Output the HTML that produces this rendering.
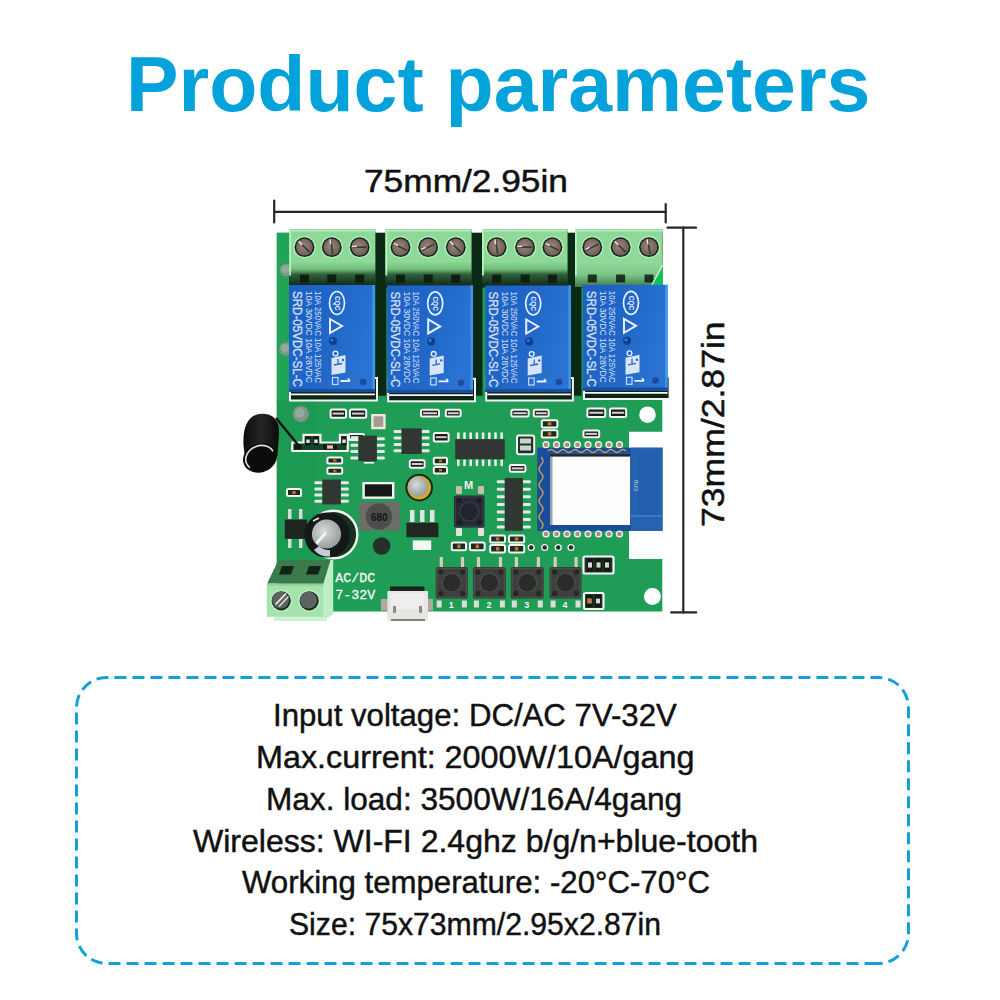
<!DOCTYPE html>
<html><head><meta charset="utf-8"><style>
html,body{margin:0;padding:0;background:#fff;}
body{width:1000px;height:1000px;position:relative;overflow:hidden;font-family:"Liberation Sans",sans-serif;}
.t{position:absolute;white-space:nowrap;line-height:1;transform-origin:0 0;}
#title{left:125.6px;top:46px;font-size:77px;font-weight:bold;color:#04a2db;}
.spec{font-size:31px;color:#111;-webkit-text-stroke:0.45px #111;}
svg{position:absolute;left:0;top:0;}
</style></head><body>
<div class="t" id="title" style="transform:scaleX(1.0233)">Product parameters</div>
<div class="t" style="left:364px;top:166px;font-size:31.5px;color:#111;-webkit-text-stroke:0.5px #111;transform:scaleX(1.12)">75mm/2.95in</div>
<div class="t" style="left:698px;top:527px;font-size:31.5px;color:#111;-webkit-text-stroke:0.5px #111;transform:rotate(-90deg) scaleX(1.129)">73mm/2.87in</div>
<svg width="1000" height="1000" viewBox="0 0 1000 1000"><defs><linearGradient id="gRelay" x1="0" y1="0" x2="1" y2="0.3"><stop offset="0" stop-color="#1c5fc4"/><stop offset="0.6" stop-color="#2168c9"/><stop offset="1" stop-color="#2a73d2"/></linearGradient><linearGradient id="gTbFront" x1="0" y1="0" x2="0" y2="1"><stop offset="0" stop-color="#88d492"/><stop offset="0.28" stop-color="#74c07f"/><stop offset="0.5" stop-color="#2f5f3a"/><stop offset="1" stop-color="#0f2416"/></linearGradient><radialGradient id="gScrew" cx="0.45" cy="0.45" r="0.6"><stop offset="0" stop-color="#a08680"/><stop offset="1" stop-color="#6c5852"/></radialGradient><linearGradient id="gTbFront4" x1="0" y1="0" x2="0" y2="1"><stop offset="0" stop-color="#92da9c"/><stop offset="0.5" stop-color="#7cc687"/><stop offset="1" stop-color="#3f7a4c"/></linearGradient><linearGradient id="gCoil" x1="0" y1="0" x2="1" y2="0"><stop offset="0" stop-color="#0c0c0c"/><stop offset="0.5" stop-color="#262626"/><stop offset="1" stop-color="#0a0a0a"/></linearGradient><radialGradient id="gCap" cx="0.4" cy="0.4" r="0.7"><stop offset="0" stop-color="#d6dad9"/><stop offset="1" stop-color="#8f9594"/></radialGradient></defs>
<g stroke="#262626" stroke-width="2.2" stroke-linecap="round">
<line x1="274.2" y1="211.8" x2="665.7" y2="211.8"/>
<line x1="274.2" y1="200.5" x2="274.2" y2="222.4"/>
<line x1="665.7" y1="204" x2="665.7" y2="222.4"/>
<line x1="683.3" y1="227.7" x2="683.3" y2="612.4"/>
<line x1="667.5" y1="227.7" x2="696" y2="227.7"/>
<line x1="671.2" y1="612.4" x2="696.2" y2="612.4"/>
</g>
<polygon points="276.8,232.8 662.3,232.8 662.3,431.7 629,431.7 629,559 662.3,559 662.3,611.5 276.8,611.5" fill="#1f9c55"/>
<rect x="276.8" y="232.8" width="12.5" height="170" fill="#21a358"/>
<rect x="276.8" y="400" width="40" height="211" fill="#1d9a52"/>
<rect x="375.3" y="232.8" width="11" height="163" fill="#0b2a16"/>
<rect x="471.5" y="232.8" width="11" height="163" fill="#0b2a16"/>
<rect x="567.5" y="232.8" width="14" height="163" fill="#0b2a16"/>
<circle cx="286.3" cy="270" r="6.5" fill="#7f978a"/>
<circle cx="285.3" cy="269" r="3.9" fill="#93aa9d"/>
<circle cx="286" cy="349" r="6.8" fill="#7f978a"/>
<circle cx="285" cy="348" r="4.08" fill="#93aa9d"/>
<circle cx="300.8" cy="414" r="8" fill="#7f978a"/>
<circle cx="299.8" cy="413" r="4.8" fill="#93aa9d"/>
<rect x="289.2" y="229.5" width="86.10000000000002" height="58" fill="#0f2416"/>
<rect x="289.2" y="262" width="86.10000000000002" height="25" fill="url(#gTbFront)"/>
<rect x="289.2" y="229.5" width="86.10000000000002" height="33" fill="#8ed998"/>
<rect x="289.2" y="229.5" width="86.10000000000002" height="2" fill="#b2eeb9"/>
<rect x="289.2" y="229.5" width="1.8" height="46" fill="#b8f2be"/>
<circle cx="304.5" cy="247.2" r="11.2" fill="#b4ecb9"/>
<circle cx="304.5" cy="247.2" r="9.9" fill="#10281a"/>
<circle cx="304.5" cy="247.2" r="8.4" fill="url(#gScrew)"/>
<line x1="299.5" y1="242.2" x2="309.5" y2="252.2" stroke="#34403a" stroke-width="1.8"/>
<line x1="298.7" y1="241.39999999999998" x2="302.2" y2="244.89999999999998" stroke="#e6e6e6" stroke-width="1.5"/>
<rect x="300.0" y="274.5" width="9" height="8" fill="#081409" opacity="0.8"/>
<circle cx="331.8" cy="247.2" r="11.2" fill="#b4ecb9"/>
<circle cx="331.8" cy="247.2" r="9.9" fill="#10281a"/>
<circle cx="331.8" cy="247.2" r="8.4" fill="url(#gScrew)"/>
<line x1="330.8" y1="240.2" x2="332.8" y2="254.2" stroke="#34403a" stroke-width="1.8"/>
<line x1="330.0" y1="239.39999999999998" x2="330.7" y2="244.29999999999998" stroke="#e6e6e6" stroke-width="1.5"/>
<rect x="327.3" y="274.5" width="9" height="8" fill="#081409" opacity="0.8"/>
<circle cx="359.7" cy="247.2" r="11.2" fill="#b4ecb9"/>
<circle cx="359.7" cy="247.2" r="9.9" fill="#10281a"/>
<circle cx="359.7" cy="247.2" r="8.4" fill="url(#gScrew)"/>
<line x1="352.7" y1="247.2" x2="366.7" y2="247.2" stroke="#34403a" stroke-width="1.8"/>
<line x1="351.9" y1="246.39999999999998" x2="356.79999999999995" y2="246.39999999999998" stroke="#e6e6e6" stroke-width="1.5"/>
<rect x="355.2" y="274.5" width="9" height="8" fill="#081409" opacity="0.8"/>
<rect x="385.4" y="229.5" width="86.10000000000002" height="58" fill="#0f2416"/>
<rect x="385.4" y="262" width="86.10000000000002" height="25" fill="url(#gTbFront)"/>
<rect x="385.4" y="229.5" width="86.10000000000002" height="33" fill="#8ed998"/>
<rect x="385.4" y="229.5" width="86.10000000000002" height="2" fill="#b2eeb9"/>
<rect x="385.4" y="229.5" width="1.8" height="46" fill="#b8f2be"/>
<circle cx="400.5" cy="247.2" r="11.2" fill="#b4ecb9"/>
<circle cx="400.5" cy="247.2" r="9.9" fill="#10281a"/>
<circle cx="400.5" cy="247.2" r="8.4" fill="url(#gScrew)"/>
<line x1="394.5" y1="244.2" x2="406.5" y2="250.2" stroke="#34403a" stroke-width="1.8"/>
<line x1="393.7" y1="243.39999999999998" x2="397.9" y2="245.49999999999997" stroke="#e6e6e6" stroke-width="1.5"/>
<rect x="396.0" y="274.5" width="9" height="8" fill="#081409" opacity="0.8"/>
<circle cx="428.2" cy="247.2" r="11.2" fill="#b4ecb9"/>
<circle cx="428.2" cy="247.2" r="9.9" fill="#10281a"/>
<circle cx="428.2" cy="247.2" r="8.4" fill="url(#gScrew)"/>
<line x1="422.2" y1="250.2" x2="434.2" y2="244.2" stroke="#34403a" stroke-width="1.8"/>
<line x1="421.4" y1="249.39999999999998" x2="425.59999999999997" y2="247.29999999999998" stroke="#e6e6e6" stroke-width="1.5"/>
<rect x="423.7" y="274.5" width="9" height="8" fill="#081409" opacity="0.8"/>
<circle cx="455.8" cy="247.2" r="11.2" fill="#b4ecb9"/>
<circle cx="455.8" cy="247.2" r="9.9" fill="#10281a"/>
<circle cx="455.8" cy="247.2" r="8.4" fill="url(#gScrew)"/>
<line x1="450.8" y1="242.2" x2="460.8" y2="252.2" stroke="#34403a" stroke-width="1.8"/>
<line x1="450.0" y1="241.39999999999998" x2="453.5" y2="244.89999999999998" stroke="#e6e6e6" stroke-width="1.5"/>
<rect x="451.3" y="274.5" width="9" height="8" fill="#081409" opacity="0.8"/>
<rect x="482" y="229.5" width="85.5" height="58" fill="#0f2416"/>
<rect x="482" y="262" width="85.5" height="25" fill="url(#gTbFront)"/>
<rect x="482" y="229.5" width="85.5" height="33" fill="#8ed998"/>
<rect x="482" y="229.5" width="85.5" height="2" fill="#b2eeb9"/>
<rect x="482" y="229.5" width="1.8" height="46" fill="#b8f2be"/>
<circle cx="496.7" cy="247.2" r="11.2" fill="#b4ecb9"/>
<circle cx="496.7" cy="247.2" r="9.9" fill="#10281a"/>
<circle cx="496.7" cy="247.2" r="8.4" fill="url(#gScrew)"/>
<line x1="495.7" y1="240.2" x2="497.7" y2="254.2" stroke="#34403a" stroke-width="1.8"/>
<line x1="494.9" y1="239.39999999999998" x2="495.59999999999997" y2="244.29999999999998" stroke="#e6e6e6" stroke-width="1.5"/>
<rect x="492.2" y="274.5" width="9" height="8" fill="#081409" opacity="0.8"/>
<circle cx="525.1" cy="247.2" r="11.2" fill="#b4ecb9"/>
<circle cx="525.1" cy="247.2" r="9.9" fill="#10281a"/>
<circle cx="525.1" cy="247.2" r="8.4" fill="url(#gScrew)"/>
<line x1="518.1" y1="247.2" x2="532.1" y2="247.2" stroke="#34403a" stroke-width="1.8"/>
<line x1="517.3000000000001" y1="246.39999999999998" x2="522.2" y2="246.39999999999998" stroke="#e6e6e6" stroke-width="1.5"/>
<rect x="520.6" y="274.5" width="9" height="8" fill="#081409" opacity="0.8"/>
<circle cx="552.4" cy="247.2" r="11.2" fill="#b4ecb9"/>
<circle cx="552.4" cy="247.2" r="9.9" fill="#10281a"/>
<circle cx="552.4" cy="247.2" r="8.4" fill="url(#gScrew)"/>
<line x1="546.4" y1="244.2" x2="558.4" y2="250.2" stroke="#34403a" stroke-width="1.8"/>
<line x1="545.6" y1="243.39999999999998" x2="549.8000000000001" y2="245.49999999999997" stroke="#e6e6e6" stroke-width="1.5"/>
<rect x="547.9" y="274.5" width="9" height="8" fill="#081409" opacity="0.8"/>
<rect x="575" y="229.5" width="87.60000000000002" height="58" fill="#0f2416"/>
<rect x="575" y="262" width="87.60000000000002" height="25" fill="url(#gTbFront4)"/>
<rect x="575" y="229.5" width="87.60000000000002" height="33" fill="#8ed998"/>
<rect x="575" y="229.5" width="87.60000000000002" height="2" fill="#b2eeb9"/>
<rect x="575" y="229.5" width="1.8" height="46" fill="#b8f2be"/>
<circle cx="592.3" cy="247.2" r="11.2" fill="#b4ecb9"/>
<circle cx="592.3" cy="247.2" r="9.9" fill="#10281a"/>
<circle cx="592.3" cy="247.2" r="8.4" fill="url(#gScrew)"/>
<line x1="586.3" y1="250.2" x2="598.3" y2="244.2" stroke="#34403a" stroke-width="1.8"/>
<line x1="585.5" y1="249.39999999999998" x2="589.7" y2="247.29999999999998" stroke="#e6e6e6" stroke-width="1.5"/>
<rect x="587.8" y="274.5" width="9" height="8" fill="#081409" opacity="0.8"/>
<circle cx="620.6" cy="247.2" r="11.2" fill="#b4ecb9"/>
<circle cx="620.6" cy="247.2" r="9.9" fill="#10281a"/>
<circle cx="620.6" cy="247.2" r="8.4" fill="url(#gScrew)"/>
<line x1="615.6" y1="242.2" x2="625.6" y2="252.2" stroke="#34403a" stroke-width="1.8"/>
<line x1="614.8000000000001" y1="241.39999999999998" x2="618.3000000000001" y2="244.89999999999998" stroke="#e6e6e6" stroke-width="1.5"/>
<rect x="616.1" y="274.5" width="9" height="8" fill="#081409" opacity="0.8"/>
<circle cx="649" cy="247.2" r="11.2" fill="#b4ecb9"/>
<circle cx="649" cy="247.2" r="9.9" fill="#10281a"/>
<circle cx="649" cy="247.2" r="8.4" fill="url(#gScrew)"/>
<line x1="648" y1="240.2" x2="650" y2="254.2" stroke="#34403a" stroke-width="1.8"/>
<line x1="647.2" y1="239.39999999999998" x2="647.9000000000001" y2="244.29999999999998" stroke="#e6e6e6" stroke-width="1.5"/>
<rect x="644.5" y="274.5" width="9" height="8" fill="#081409" opacity="0.8"/>
<polygon points="651.5,285.5 662.7,265 662.7,285.5" fill="#14c05c"/>
<line x1="651.5" y1="285.5" x2="662.7" y2="265" stroke="#d8f5dc" stroke-width="1.3"/>
<rect x="290" y="378" width="87" height="22.5" fill="#0d2417" stroke="#f4f6f4" stroke-width="2"/>
<line x1="291" y1="394.3" x2="375" y2="394.3" stroke="#f4f6f4" stroke-width="1.7"/>
<rect x="289" y="285" width="86" height="107" fill="url(#gRelay)"/>
<rect x="372.5" y="285" width="2.5" height="107" fill="#3e98ea"/>
<rect x="289" y="389" width="86" height="3" fill="#174f9e"/>
<text transform="translate(293,291) rotate(90)" font-family="Liberation Sans" font-size="13.5" fill="#e8f0fc" stroke="#e8f0fc" stroke-width="0.3" opacity="0.9" textLength="96" lengthAdjust="spacingAndGlyphs">SRD-05VDC-SL-C</text>
<text transform="translate(306,291) rotate(90)" font-family="Liberation Sans" font-size="8.5" fill="#e8f0fc" opacity="0.9" textLength="92" lengthAdjust="spacingAndGlyphs">10A 30VDC 10A 28VDC</text>
<text transform="translate(315,291) rotate(90)" font-family="Liberation Sans" font-size="8.5" fill="#e8f0fc" opacity="0.9" textLength="92" lengthAdjust="spacingAndGlyphs">10A 250VAC 10A 125VAC</text>
<ellipse cx="337" cy="303" rx="7.5" ry="11.5" fill="none" stroke="#e8f0fc" stroke-width="1.7"/>
<text transform="translate(334.5,296) rotate(90)" font-family="Liberation Sans" font-weight="bold" font-size="6.5" fill="#e8f0fc">CQC</text>
<path d="M330,319 L342,326 L330,333 Z" fill="none" stroke="#e8f0fc" stroke-width="2"/>
<circle cx="333" cy="341" r="4" fill="#0f3f8c"/>
<circle cx="332" cy="340" r="1.6" fill="#2f7ad8"/>
<polygon points="331.5,358 345.5,355 345.5,372.5 331.5,375" fill="#e8f0fc" opacity="0.92"/>
<path d="M334,365 L342,363.5 M338,359 L338,364" stroke="#2a66c4" stroke-width="1.3"/>
<circle cx="343" cy="360" r="1.2" fill="#2a66c4"/>
<circle cx="335.5" cy="353.5" r="2.4" fill="none" stroke="#e8f0fc" stroke-width="1.3"/>
<rect x="332.5" y="377.5" width="5.5" height="7" fill="none" stroke="#e8f0fc" stroke-width="1.2" opacity="0.85"/>
<path d="M340.5,381 H350 M348,378.5 L350,381" stroke="#e8f0fc" stroke-width="1.8"/>
<circle cx="363" cy="382" r="3.3" fill="#1a4d9a"/>
<rect x="388.2" y="378.8" width="86.80000000000001" height="22.5" fill="#0d2417" stroke="#f4f6f4" stroke-width="2"/>
<line x1="389.2" y1="395.1" x2="473" y2="395.1" stroke="#f4f6f4" stroke-width="1.7"/>
<rect x="387.2" y="285.4" width="85.80000000000001" height="107.40000000000003" fill="url(#gRelay)"/>
<rect x="470.5" y="285.4" width="2.5" height="107.40000000000003" fill="#3e98ea"/>
<rect x="387.2" y="389.8" width="85.80000000000001" height="3" fill="#174f9e"/>
<text transform="translate(391.2,291.4) rotate(90)" font-family="Liberation Sans" font-size="13.5" fill="#e8f0fc" stroke="#e8f0fc" stroke-width="0.3" opacity="0.9" textLength="96" lengthAdjust="spacingAndGlyphs">SRD-05VDC-SL-C</text>
<text transform="translate(404.2,291.4) rotate(90)" font-family="Liberation Sans" font-size="8.5" fill="#e8f0fc" opacity="0.9" textLength="92" lengthAdjust="spacingAndGlyphs">10A 30VDC 10A 28VDC</text>
<text transform="translate(413.2,291.4) rotate(90)" font-family="Liberation Sans" font-size="8.5" fill="#e8f0fc" opacity="0.9" textLength="92" lengthAdjust="spacingAndGlyphs">10A 250VAC 10A 125VAC</text>
<ellipse cx="435.2" cy="303.4" rx="7.5" ry="11.5" fill="none" stroke="#e8f0fc" stroke-width="1.7"/>
<text transform="translate(432.7,296.4) rotate(90)" font-family="Liberation Sans" font-weight="bold" font-size="6.5" fill="#e8f0fc">CQC</text>
<path d="M428.2,319.4 L440.2,326.4 L428.2,333.4 Z" fill="none" stroke="#e8f0fc" stroke-width="2"/>
<circle cx="431.2" cy="341.4" r="4" fill="#0f3f8c"/>
<circle cx="430.2" cy="340.4" r="1.6" fill="#2f7ad8"/>
<polygon points="429.7,358.4 443.7,355.4 443.7,372.9 429.7,375.4" fill="#e8f0fc" opacity="0.92"/>
<path d="M432.2,365.4 L440.2,363.9 M436.2,359.4 L436.2,364.4" stroke="#2a66c4" stroke-width="1.3"/>
<circle cx="441.2" cy="360.4" r="1.2" fill="#2a66c4"/>
<circle cx="433.7" cy="353.9" r="2.4" fill="none" stroke="#e8f0fc" stroke-width="1.3"/>
<rect x="430.7" y="377.9" width="5.5" height="7" fill="none" stroke="#e8f0fc" stroke-width="1.2" opacity="0.85"/>
<path d="M438.7,381.4 H448.2 M446.2,378.9 L448.2,381.4" stroke="#e8f0fc" stroke-width="1.8"/>
<circle cx="461.0" cy="382.8" r="3.3" fill="#1a4d9a"/>
<rect x="486.2" y="378" width="86.69999999999999" height="22.5" fill="#0d2417" stroke="#f4f6f4" stroke-width="2"/>
<line x1="487.2" y1="394.3" x2="570.9" y2="394.3" stroke="#f4f6f4" stroke-width="1.7"/>
<rect x="485.2" y="285.5" width="85.69999999999999" height="106.5" fill="url(#gRelay)"/>
<rect x="568.4" y="285.5" width="2.5" height="106.5" fill="#3e98ea"/>
<rect x="485.2" y="389" width="85.69999999999999" height="3" fill="#174f9e"/>
<text transform="translate(489.2,291.5) rotate(90)" font-family="Liberation Sans" font-size="13.5" fill="#e8f0fc" stroke="#e8f0fc" stroke-width="0.3" opacity="0.9" textLength="96" lengthAdjust="spacingAndGlyphs">SRD-05VDC-SL-C</text>
<text transform="translate(502.2,291.5) rotate(90)" font-family="Liberation Sans" font-size="8.5" fill="#e8f0fc" opacity="0.9" textLength="92" lengthAdjust="spacingAndGlyphs">10A 30VDC 10A 28VDC</text>
<text transform="translate(511.2,291.5) rotate(90)" font-family="Liberation Sans" font-size="8.5" fill="#e8f0fc" opacity="0.9" textLength="92" lengthAdjust="spacingAndGlyphs">10A 250VAC 10A 125VAC</text>
<ellipse cx="533.2" cy="303.5" rx="7.5" ry="11.5" fill="none" stroke="#e8f0fc" stroke-width="1.7"/>
<text transform="translate(530.7,296.5) rotate(90)" font-family="Liberation Sans" font-weight="bold" font-size="6.5" fill="#e8f0fc">CQC</text>
<path d="M526.2,319.5 L538.2,326.5 L526.2,333.5 Z" fill="none" stroke="#e8f0fc" stroke-width="2"/>
<circle cx="529.2" cy="341.5" r="4" fill="#0f3f8c"/>
<circle cx="528.2" cy="340.5" r="1.6" fill="#2f7ad8"/>
<polygon points="527.7,358.5 541.7,355.5 541.7,373.0 527.7,375.5" fill="#e8f0fc" opacity="0.92"/>
<path d="M530.2,365.5 L538.2,364.0 M534.2,359.5 L534.2,364.5" stroke="#2a66c4" stroke-width="1.3"/>
<circle cx="539.2" cy="360.5" r="1.2" fill="#2a66c4"/>
<circle cx="531.7" cy="354.0" r="2.4" fill="none" stroke="#e8f0fc" stroke-width="1.3"/>
<rect x="528.7" y="378.0" width="5.5" height="7" fill="none" stroke="#e8f0fc" stroke-width="1.2" opacity="0.85"/>
<path d="M536.7,381.5 H546.2 M544.2,379.0 L546.2,381.5" stroke="#e8f0fc" stroke-width="1.8"/>
<circle cx="558.9" cy="382.0" r="3.3" fill="#1a4d9a"/>
<rect x="584" y="376.5" width="85.60000000000002" height="22.5" fill="#0d2417" stroke="#f4f6f4" stroke-width="2"/>
<line x1="585" y1="392.8" x2="667.6" y2="392.8" stroke="#f4f6f4" stroke-width="1.7"/>
<rect x="583" y="284.8" width="84.60000000000002" height="105.69999999999999" fill="url(#gRelay)"/>
<rect x="665.1" y="284.8" width="2.5" height="105.69999999999999" fill="#3e98ea"/>
<rect x="583" y="387.5" width="84.60000000000002" height="3" fill="#174f9e"/>
<text transform="translate(587,290.8) rotate(90)" font-family="Liberation Sans" font-size="13.5" fill="#e8f0fc" stroke="#e8f0fc" stroke-width="0.3" opacity="0.9" textLength="96" lengthAdjust="spacingAndGlyphs">SRD-05VDC-SL-C</text>
<text transform="translate(600,290.8) rotate(90)" font-family="Liberation Sans" font-size="8.5" fill="#e8f0fc" opacity="0.9" textLength="92" lengthAdjust="spacingAndGlyphs">10A 30VDC 10A 28VDC</text>
<text transform="translate(609,290.8) rotate(90)" font-family="Liberation Sans" font-size="8.5" fill="#e8f0fc" opacity="0.9" textLength="92" lengthAdjust="spacingAndGlyphs">10A 250VAC 10A 125VAC</text>
<ellipse cx="631" cy="302.8" rx="7.5" ry="11.5" fill="none" stroke="#e8f0fc" stroke-width="1.7"/>
<text transform="translate(628.5,295.8) rotate(90)" font-family="Liberation Sans" font-weight="bold" font-size="6.5" fill="#e8f0fc">CQC</text>
<path d="M624,318.8 L636,325.8 L624,332.8 Z" fill="none" stroke="#e8f0fc" stroke-width="2"/>
<circle cx="627" cy="340.8" r="4" fill="#0f3f8c"/>
<circle cx="626" cy="339.8" r="1.6" fill="#2f7ad8"/>
<polygon points="625.5,357.8 639.5,354.8 639.5,372.3 625.5,374.8" fill="#e8f0fc" opacity="0.92"/>
<path d="M628,364.8 L636,363.3 M632,358.8 L632,363.8" stroke="#2a66c4" stroke-width="1.3"/>
<circle cx="637" cy="359.8" r="1.2" fill="#2a66c4"/>
<circle cx="629.5" cy="353.3" r="2.4" fill="none" stroke="#e8f0fc" stroke-width="1.3"/>
<rect x="626.5" y="377.3" width="5.5" height="7" fill="none" stroke="#e8f0fc" stroke-width="1.2" opacity="0.85"/>
<path d="M634.5,380.8 H644 M642,378.3 L644,380.8" stroke="#e8f0fc" stroke-width="1.8"/>
<circle cx="655.6" cy="380.5" r="3.3" fill="#1a4d9a"/>
<rect x="330.6" y="409.4" width="15.399999999999977" height="8.400000000000034" rx="1.5" fill="#1a1a1a" stroke="#f4f6f4" stroke-width="2"/><rect x="332.6" y="412.6" width="11.399999999999977" height="2" fill="#cfd3cf"/>
<rect x="350" y="409.4" width="16.19999999999999" height="8.400000000000034" rx="1.5" fill="#1a1a1a" stroke="#f4f6f4" stroke-width="2"/><rect x="352" y="412.6" width="12.199999999999989" height="2" fill="#cfd3cf"/>
<rect x="421" y="409.8" width="18" height="6.800000000000011" rx="1.5" fill="#1a1a1a" stroke="#f4f6f4" stroke-width="2"/><rect x="423" y="412.20000000000005" width="14" height="2" fill="#cfd3cf"/>
<rect x="445.8" y="409.8" width="14.800000000000011" height="6.800000000000011" rx="1.5" fill="#1a1a1a" stroke="#f4f6f4" stroke-width="2"/><rect x="447.8" y="412.20000000000005" width="10.800000000000011" height="2" fill="#cfd3cf"/>
<rect x="511.4" y="409.8" width="17.200000000000045" height="6.800000000000011" rx="1.5" fill="#1a1a1a" stroke="#f4f6f4" stroke-width="2"/><rect x="513.4" y="412.20000000000005" width="13.200000000000045" height="2" fill="#cfd3cf"/>
<rect x="533.8" y="409.8" width="14.800000000000068" height="6.800000000000011" rx="1.5" fill="#1a1a1a" stroke="#f4f6f4" stroke-width="2"/><rect x="535.8" y="412.20000000000005" width="10.800000000000068" height="2" fill="#cfd3cf"/>
<rect x="587.4" y="408.5" width="17.800000000000068" height="8.5" rx="1.5" fill="#1a1a1a" stroke="#f4f6f4" stroke-width="2"/><rect x="589.4" y="411.75" width="13.800000000000068" height="2" fill="#cfd3cf"/>
<rect x="610" y="408.5" width="16.100000000000023" height="8.5" rx="1.5" fill="#1a1a1a" stroke="#f4f6f4" stroke-width="2"/><rect x="612" y="411.75" width="12.100000000000023" height="2" fill="#cfd3cf"/>
<rect x="583.5" y="430.5" width="15.700000000000045" height="6.800000000000011" rx="1.5" fill="#1a1a1a" stroke="#f4f6f4" stroke-width="2"/><rect x="585.5" y="432.9" width="11.700000000000045" height="2" fill="#cfd3cf"/>
<rect x="433.8" y="433" width="14.800000000000011" height="8.399999999999977" rx="1.5" fill="#1a1a1a" stroke="#f4f6f4" stroke-width="2"/><rect x="435.8" y="436.2" width="10.800000000000011" height="2" fill="#cfd3cf"/>
<rect x="509.8" y="465" width="15.599999999999966" height="6.800000000000011" rx="1.5" fill="#1a1a1a" stroke="#f4f6f4" stroke-width="2"/><rect x="511.8" y="467.4" width="11.599999999999966" height="2" fill="#cfd3cf"/>
<rect x="409.8" y="460.2" width="14.800000000000011" height="7.600000000000023" rx="1.5" fill="#1a1a1a" stroke="#f4f6f4" stroke-width="2"/><rect x="411.8" y="463.0" width="10.800000000000011" height="2" fill="#cfd3cf"/>
<rect x="349" y="434" width="15" height="6" rx="1.5" fill="#1a1a1a" stroke="#f4f6f4" stroke-width="2"/><rect x="351" y="436.0" width="11" height="2" fill="#cfd3cf"/>
<rect x="327.4" y="457.4" width="14.800000000000011" height="6.0" rx="1.5" fill="#1c2a20" stroke="#f4f6f4" stroke-width="2"/><rect x="333.12" y="459.4" width="3.3600000000000025" height="2.0" fill="#c8742c"/>
<rect x="327.4" y="467.8" width="14.800000000000011" height="6.0" rx="1.5" fill="#1c2a20" stroke="#f4f6f4" stroke-width="2"/><rect x="333.12" y="469.8" width="3.3600000000000025" height="2.0" fill="#c8742c"/>
<rect x="433.8" y="457.8" width="13.199999999999989" height="6.399999999999977" rx="1.5" fill="#1c2a20" stroke="#f4f6f4" stroke-width="2"/><rect x="438.88" y="459.8" width="3.039999999999998" height="2.3999999999999773" fill="#c8742c"/>
<rect x="433.8" y="467" width="13.199999999999989" height="6.399999999999977" rx="1.5" fill="#1c2a20" stroke="#f4f6f4" stroke-width="2"/><rect x="438.88" y="469" width="3.039999999999998" height="2.3999999999999773" fill="#c8742c"/>
<rect x="541.8" y="420.2" width="15.600000000000023" height="7.199999999999989" rx="1.5" fill="#1c2a20" stroke="#f4f6f4" stroke-width="2"/><rect x="547.8399999999999" y="422.2" width="3.520000000000005" height="3.1999999999999886" fill="#c8742c"/>
<rect x="541.8" y="430.2" width="15.600000000000023" height="7.199999999999989" rx="1.5" fill="#1c2a20" stroke="#f4f6f4" stroke-width="2"/><rect x="547.8399999999999" y="432.2" width="3.520000000000005" height="3.1999999999999886" fill="#c8742c"/>
<rect x="287" y="489" width="14" height="7" rx="1.5" fill="#1c2a20" stroke="#f4f6f4" stroke-width="2"/><rect x="292.4" y="491" width="3.2" height="3" fill="#c8742c"/>
<rect x="451.8" y="542.6" width="14.199999999999989" height="7.600000000000023" rx="1.5" fill="#1c2a20" stroke="#f4f6f4" stroke-width="2"/><rect x="457.28000000000003" y="544.6" width="3.239999999999998" height="3.6000000000000227" fill="#c8742c"/>
<rect x="470" y="542.6" width="14.600000000000023" height="7.600000000000023" rx="1.5" fill="#1c2a20" stroke="#f4f6f4" stroke-width="2"/><rect x="475.64" y="544.6" width="3.3200000000000047" height="3.6000000000000227" fill="#c8742c"/>
<rect x="583.5" y="556.5" width="30" height="17" rx="1.5" fill="#1b3022" stroke="#f4f6f4" stroke-width="2.2"/>
<rect x="587.0" y="558.5" width="6" height="13.0" fill="#101a12"/>
<rect x="588.0" y="562.4" width="4" height="5.2" fill="#d8d8d0"/>
<rect x="595.5" y="558.5" width="6" height="13.0" fill="#101a12"/>
<rect x="596.5" y="562.4" width="4" height="5.2" fill="#d8d8d0"/>
<rect x="604.0" y="558.5" width="6" height="13.0" fill="#101a12"/>
<rect x="605.0" y="562.4" width="4" height="5.2" fill="#d8d8d0"/>
<rect x="584" y="593" width="19.5" height="16" rx="1.5" fill="#1b3022" stroke="#f4f6f4" stroke-width="2.2"/>
<rect x="586.5" y="595" width="6" height="12" fill="#101a12"/>
<rect x="587.5" y="598.6" width="4" height="4.800000000000001" fill="#d8d8d0"/>
<rect x="595.0" y="595" width="6" height="12" fill="#101a12"/>
<rect x="596.0" y="598.6" width="4" height="4.800000000000001" fill="#d8d8d0"/>
<rect x="587.5" y="599" width="4" height="4" fill="#c8742c"/>
<rect x="517" y="435.4" width="17.2" height="18.8" rx="2" fill="#1e3526" stroke="#f4f6f4" stroke-width="2"/>
<rect x="520" y="438.5" width="11" height="5" fill="#cfd3cf"/><rect x="520" y="445.5" width="11" height="5" fill="#cfd3cf"/>
<path d="M292.3,442.5 H303.5 V434.8 H320.4 V442.5 H339.9 V434.8 H347.7 V451 H292.3 Z" fill="#15452a" stroke="#f4f6f4" stroke-width="2.2"/>
<rect x="305.5" y="436.5" width="5" height="9" fill="#111a14"/><rect x="306.3" y="439.5" width="3.4" height="3.5" fill="#e8e0d8"/>
<rect x="313.5" y="436.5" width="5" height="9" fill="#111a14"/><rect x="314.3" y="439.5" width="3.4" height="3.5" fill="#e8e0d8"/>
<rect x="341.5" y="436.5" width="5" height="9" fill="#111a14"/><rect x="342.3" y="439.5" width="3.4" height="3.5" fill="#e8e0d8"/>
<rect x="294" y="444.5" width="8" height="5" fill="#111a14"/>
<rect x="323" y="444.5" width="14" height="5" fill="#111a14"/><rect x="327" y="445.3" width="6" height="3.4" fill="#e7c9b0"/>
<rect x="490.2" y="535.4" width="14.800000000000011" height="7.100000000000023" rx="1.5" fill="#1c2a20" stroke="#f4f6f4" stroke-width="2"/><rect x="495.92" y="537.4" width="3.3600000000000025" height="3.1000000000000227" fill="#c8742c"/>
<rect x="509" y="535.4" width="15.200000000000045" height="7.100000000000023" rx="1.5" fill="#1c2a20" stroke="#f4f6f4" stroke-width="2"/><rect x="514.88" y="537.4" width="3.4400000000000093" height="3.1000000000000227" fill="#c8742c"/>
<rect x="490.2" y="545" width="14.800000000000011" height="7.600000000000023" rx="1.5" fill="#1c2a20" stroke="#f4f6f4" stroke-width="2"/><rect x="495.92" y="547" width="3.3600000000000025" height="3.6000000000000227" fill="#c8742c"/>
<rect x="509" y="545" width="15.200000000000045" height="7.600000000000023" rx="1.5" fill="#1c2a20" stroke="#f4f6f4" stroke-width="2"/><rect x="514.88" y="547" width="3.4400000000000093" height="3.6000000000000227" fill="#c8742c"/>
<circle cx="647.5" cy="414.7" r="8.3" fill="#ffffff"/>
<circle cx="652.4" cy="596.6" r="8.5" fill="#ffffff"/>
<rect x="537.3" y="447.7" width="125.2" height="83.3" fill="#1a4c9c"/>
<rect x="631" y="447.7" width="31.5" height="83.3" fill="#2562b0"/>
<rect x="638" y="453" width="20" height="62" fill="#215cab" opacity="0.7"/>
<rect x="631" y="515" width="31" height="2" fill="#3a78c4"/>
<text transform="translate(633.5,480) rotate(90)" font-family="Liberation Sans" font-size="6" fill="#c8d6ec">8U3</text>
<rect x="550" y="453.7" width="80.2" height="71.3" fill="#9aa3ad"/>
<rect x="552.5" y="456.5" width="77.5" height="68.5" fill="#fdfdfd"/>
<rect x="550" y="453.7" width="80.2" height="2.8" fill="#202a3a"/>
<circle cx="546.0" cy="444.7" r="3.6" fill="#f2f2f2"/><circle cx="546.0" cy="444.7" r="2.3" fill="#a8907a"/>
<circle cx="546.0" cy="534" r="3.6" fill="#f2f2f2"/><circle cx="546.0" cy="534" r="2.3" fill="#a8907a"/>
<circle cx="556.5" cy="444.7" r="3.6" fill="#f2f2f2"/><circle cx="556.5" cy="444.7" r="2.3" fill="#a8907a"/>
<circle cx="556.5" cy="534" r="3.6" fill="#f2f2f2"/><circle cx="556.5" cy="534" r="2.3" fill="#a8907a"/>
<circle cx="567.0" cy="444.7" r="3.6" fill="#f2f2f2"/><circle cx="567.0" cy="444.7" r="2.3" fill="#a8907a"/>
<circle cx="567.0" cy="534" r="3.6" fill="#f2f2f2"/><circle cx="567.0" cy="534" r="2.3" fill="#a8907a"/>
<circle cx="577.5" cy="444.7" r="3.6" fill="#f2f2f2"/><circle cx="577.5" cy="444.7" r="2.3" fill="#a8907a"/>
<circle cx="577.5" cy="534" r="3.6" fill="#f2f2f2"/><circle cx="577.5" cy="534" r="2.3" fill="#a8907a"/>
<circle cx="588.0" cy="444.7" r="3.6" fill="#f2f2f2"/><circle cx="588.0" cy="444.7" r="2.3" fill="#a8907a"/>
<circle cx="588.0" cy="534" r="3.6" fill="#f2f2f2"/><circle cx="588.0" cy="534" r="2.3" fill="#a8907a"/>
<circle cx="598.5" cy="444.7" r="3.6" fill="#f2f2f2"/><circle cx="598.5" cy="444.7" r="2.3" fill="#a8907a"/>
<circle cx="598.5" cy="534" r="3.6" fill="#f2f2f2"/><circle cx="598.5" cy="534" r="2.3" fill="#a8907a"/>
<circle cx="609.0" cy="444.7" r="3.6" fill="#f2f2f2"/><circle cx="609.0" cy="444.7" r="2.3" fill="#a8907a"/>
<circle cx="609.0" cy="534" r="3.6" fill="#f2f2f2"/><circle cx="609.0" cy="534" r="2.3" fill="#a8907a"/>
<circle cx="619.5" cy="444.7" r="3.6" fill="#f2f2f2"/><circle cx="619.5" cy="444.7" r="2.3" fill="#a8907a"/>
<circle cx="619.5" cy="534" r="3.6" fill="#f2f2f2"/><circle cx="619.5" cy="534" r="2.3" fill="#a8907a"/>
<circle cx="531.2" cy="547.5" r="3.6" fill="#f0f0f0"/><circle cx="531.2" cy="547.5" r="2.2" fill="#1c3324"/>
<circle cx="544.7" cy="547.5" r="3.6" fill="#f0f0f0"/><circle cx="544.7" cy="547.5" r="2.2" fill="#1c3324"/>
<circle cx="558.2" cy="547.5" r="3.6" fill="#f0f0f0"/><circle cx="558.2" cy="547.5" r="2.2" fill="#1c3324"/>
<circle cx="571" cy="547.5" r="3.6" fill="#f0f0f0"/><circle cx="571" cy="547.5" r="2.2" fill="#1c3324"/>
<path d="M541,457 q4,4 0,8 q-4,4 0,8 q4,4 0,8 q-4,4 0,8 q4,4 0,8 q-4,4 0,8 q4,4 0,8 q-4,4 0,8 q4,4 0,8" fill="none" stroke="#caa24e" stroke-width="1.4"/>
<path d="M548,451 q3,-3 6,0 q3,3 6,0 q3,-3 6,0 q3,3 6,0 q3,-3 6,0 q3,3 6,0 q3,-3 6,0 q3,3 6,0 q3,-3 6,0 q3,3 6,0 q3,-3 6,0 q3,3 6,0 q3,-3 6,0" fill="none" stroke="#caa24e" stroke-width="1.2"/>
<rect x="350.4" y="437.3" width="8" height="3" rx="1" fill="#e6e9e6"/><rect x="376.8" y="437.3" width="8" height="3" rx="1" fill="#e6e9e6"/><rect x="350.4" y="443.7" width="8" height="3" rx="1" fill="#e6e9e6"/><rect x="376.8" y="443.7" width="8" height="3" rx="1" fill="#e6e9e6"/><rect x="350.4" y="450.1" width="8" height="3" rx="1" fill="#e6e9e6"/><rect x="376.8" y="450.1" width="8" height="3" rx="1" fill="#e6e9e6"/><rect x="350.4" y="456.5" width="8" height="3" rx="1" fill="#e6e9e6"/><rect x="376.8" y="456.5" width="8" height="3" rx="1" fill="#e6e9e6"/><rect x="358.4" y="435.6" width="18.400000000000034" height="25.599999999999966" fill="#323633"/>
<rect x="393.6" y="430.09999999999997" width="8" height="3" rx="1" fill="#e6e9e6"/><rect x="421.6" y="430.09999999999997" width="8" height="3" rx="1" fill="#e6e9e6"/><rect x="393.6" y="436.5" width="8" height="3" rx="1" fill="#e6e9e6"/><rect x="421.6" y="436.5" width="8" height="3" rx="1" fill="#e6e9e6"/><rect x="393.6" y="442.9" width="8" height="3" rx="1" fill="#e6e9e6"/><rect x="421.6" y="442.9" width="8" height="3" rx="1" fill="#e6e9e6"/><rect x="393.6" y="449.3" width="8" height="3" rx="1" fill="#e6e9e6"/><rect x="421.6" y="449.3" width="8" height="3" rx="1" fill="#e6e9e6"/><rect x="401.6" y="428.4" width="20.0" height="25.600000000000023" fill="#323633"/>
<rect x="314.4" y="481.20000000000005" width="8" height="3" rx="1" fill="#e6e9e6"/><rect x="340.8" y="481.20000000000005" width="8" height="3" rx="1" fill="#e6e9e6"/><rect x="314.4" y="487.4" width="8" height="3" rx="1" fill="#e6e9e6"/><rect x="340.8" y="487.4" width="8" height="3" rx="1" fill="#e6e9e6"/><rect x="314.4" y="493.6" width="8" height="3" rx="1" fill="#e6e9e6"/><rect x="340.8" y="493.6" width="8" height="3" rx="1" fill="#e6e9e6"/><rect x="314.4" y="499.79999999999995" width="8" height="3" rx="1" fill="#e6e9e6"/><rect x="340.8" y="499.79999999999995" width="8" height="3" rx="1" fill="#e6e9e6"/><rect x="322.4" y="479.6" width="18.400000000000034" height="24.799999999999955" fill="#323633"/>
<rect x="457.0" y="432.2" width="2.6" height="7" rx="1" fill="#e6e9e6"/><rect x="457.0" y="459.2" width="2.6" height="7" rx="1" fill="#e6e9e6"/><rect x="463.2" y="432.2" width="2.6" height="7" rx="1" fill="#e6e9e6"/><rect x="463.2" y="459.2" width="2.6" height="7" rx="1" fill="#e6e9e6"/><rect x="469.4" y="432.2" width="2.6" height="7" rx="1" fill="#e6e9e6"/><rect x="469.4" y="459.2" width="2.6" height="7" rx="1" fill="#e6e9e6"/><rect x="475.59999999999997" y="432.2" width="2.6" height="7" rx="1" fill="#e6e9e6"/><rect x="475.59999999999997" y="459.2" width="2.6" height="7" rx="1" fill="#e6e9e6"/><rect x="481.8" y="432.2" width="2.6" height="7" rx="1" fill="#e6e9e6"/><rect x="481.8" y="459.2" width="2.6" height="7" rx="1" fill="#e6e9e6"/><rect x="488.0" y="432.2" width="2.6" height="7" rx="1" fill="#e6e9e6"/><rect x="488.0" y="459.2" width="2.6" height="7" rx="1" fill="#e6e9e6"/><rect x="494.2" y="432.2" width="2.6" height="7" rx="1" fill="#e6e9e6"/><rect x="494.2" y="459.2" width="2.6" height="7" rx="1" fill="#e6e9e6"/><rect x="500.4" y="432.2" width="2.6" height="7" rx="1" fill="#e6e9e6"/><rect x="500.4" y="459.2" width="2.6" height="7" rx="1" fill="#e6e9e6"/><rect x="455.2" y="439.2" width="49.60000000000002" height="20.0" fill="#323633"/>
<rect x="496.8" y="480.27142857142854" width="8" height="3" rx="1" fill="#e6e9e6"/><rect x="522.8" y="480.27142857142854" width="8" height="3" rx="1" fill="#e6e9e6"/><rect x="496.8" y="487.8142857142857" width="8" height="3" rx="1" fill="#e6e9e6"/><rect x="522.8" y="487.8142857142857" width="8" height="3" rx="1" fill="#e6e9e6"/><rect x="496.8" y="495.35714285714283" width="8" height="3" rx="1" fill="#e6e9e6"/><rect x="522.8" y="495.35714285714283" width="8" height="3" rx="1" fill="#e6e9e6"/><rect x="496.8" y="502.9" width="8" height="3" rx="1" fill="#e6e9e6"/><rect x="522.8" y="502.9" width="8" height="3" rx="1" fill="#e6e9e6"/><rect x="496.8" y="510.4428571428571" width="8" height="3" rx="1" fill="#e6e9e6"/><rect x="522.8" y="510.4428571428571" width="8" height="3" rx="1" fill="#e6e9e6"/><rect x="496.8" y="517.9857142857143" width="8" height="3" rx="1" fill="#e6e9e6"/><rect x="522.8" y="517.9857142857143" width="8" height="3" rx="1" fill="#e6e9e6"/><rect x="496.8" y="525.5285714285714" width="8" height="3" rx="1" fill="#e6e9e6"/><rect x="522.8" y="525.5285714285714" width="8" height="3" rx="1" fill="#e6e9e6"/><rect x="504.8" y="478" width="17.999999999999943" height="52.799999999999955" fill="#323633"/>
<rect x="364" y="462" width="10" height="1.6" fill="#f4f6f4"/>
<rect x="371.2" y="414" width="14.4" height="15.2" fill="#efe9df"/>
<rect x="373.5" y="416.3" width="9.8" height="10.6" fill="#a79a92"/>
<path d="M243.5,445 C242.5,424 250,414 262,413.8 C273,413.8 279.5,420 279,433 L277.5,456 L246,468 Z" fill="url(#gCoil)"/>
<g transform="rotate(-22 260 457.8)"><ellipse cx="260" cy="457.8" rx="17.4" ry="14.4" fill="#0b0b0b"/><ellipse cx="260" cy="457.8" rx="14.6" ry="12" fill="none" stroke="#e0e0e0" stroke-width="1.6" stroke-dasharray="0 36 46 100"/></g>
<line x1="276" y1="418" x2="299" y2="446" stroke="#141414" stroke-width="2.4"/>
<rect x="284.8" y="519.6" width="22.4" height="19.2" fill="#1f2421"/>
<rect x="288" y="509" width="3.5" height="10" fill="#d8dcd8"/>
<rect x="288" y="539" width="3.5" height="9" fill="#d8dcd8"/>
<rect x="299" y="509" width="3.5" height="10" fill="#d8dcd8"/>
<rect x="299" y="539" width="3.5" height="9" fill="#d8dcd8"/>
<circle cx="333.5" cy="534.5" r="23.8" fill="#17301f" stroke="#f4f6f4" stroke-width="2.4"/>
<circle cx="327" cy="535" r="22.6" fill="#141816"/>
<path d="M314,550 A19,19 0 0 0 330,556.5 L330,550 A14,14 0 0 1 319,546 Z" fill="#c3ccd6"/>
<circle cx="326.5" cy="534" r="14.6" fill="url(#gCap)"/>
<path d="M316.5,543.5 L326,532.5" stroke="#f2f2f2" stroke-width="3"/>
<path d="M313,521 L319,518" stroke="#e8e8e8" stroke-width="1.5"/>
<rect x="359.2" y="502" width="40.8" height="28.8" rx="2" fill="#6b6e68"/>
<circle cx="379" cy="516.4" r="13.2" fill="#4b4e4a"/>
<text x="371" y="520.5" font-family="Liberation Sans" font-weight="bold" font-size="10" fill="#161616">680</text>
<rect x="362.4" y="482" width="32" height="16.8" fill="#f4f6f4"/>
<rect x="364.8" y="484.3" width="27.2" height="12.2" fill="#161916"/>
<circle cx="419.2" cy="487.6" r="13.8" fill="#142a1c"/>
<circle cx="419.2" cy="487.6" r="11.8" fill="#d1aa2c"/>
<circle cx="418" cy="486.5" r="10" fill="url(#gCap)"/>
<circle cx="381.6" cy="546" r="8.8" fill="#243128"/>
<rect x="406.4" y="522.8" width="32" height="14.4" fill="#222622"/>
<rect x="410" y="510" width="4.5" height="12" fill="#e0e4e0"/>
<rect x="420" y="510" width="4.5" height="12" fill="#e0e4e0"/>
<rect x="430" y="510" width="4.5" height="12" fill="#e0e4e0"/>
<rect x="412.8" y="540.4" width="18.4" height="9.6" fill="#f4f6f4"/>
<rect x="439.7" y="557" width="3.2" height="10" fill="#d8cbb8"/>
<rect x="460.9" y="557" width="3.2" height="10" fill="#d8cbb8"/>
<rect x="435.7" y="567" width="32.19999999999999" height="31.399999999999977" rx="2" fill="#3c3f3c"/>
<rect x="437.2" y="568.5" width="29.19999999999999" height="28.399999999999977" rx="2" fill="none" stroke="#4b4e4b" stroke-width="1.2"/>
<circle cx="440.7" cy="572" r="2.6" fill="#262826"/>
<circle cx="462.9" cy="572" r="2.6" fill="#262826"/>
<circle cx="440.7" cy="593.4" r="2.6" fill="#262826"/>
<circle cx="462.9" cy="593.4" r="2.6" fill="#262826"/>
<circle cx="451.79999999999995" cy="582.7" r="9.5" fill="#2a2c2a" stroke="#4b4e4b" stroke-width="1.2"/>
<text x="448.79999999999995" y="607.5" font-family="Liberation Sans" font-weight="bold" font-size="9" fill="#f4f6f4">1</text>
<rect x="436.7" y="600.5" width="5" height="7" fill="#e2dbd2"/>
<rect x="461.9" y="600.5" width="5" height="7" fill="#e2dbd2"/>
<rect x="476.9" y="557" width="3.2" height="10" fill="#d8cbb8"/>
<rect x="498.9" y="557" width="3.2" height="10" fill="#d8cbb8"/>
<rect x="472.9" y="567" width="33.0" height="31.399999999999977" rx="2" fill="#3c3f3c"/>
<rect x="474.4" y="568.5" width="30.0" height="28.399999999999977" rx="2" fill="none" stroke="#4b4e4b" stroke-width="1.2"/>
<circle cx="477.9" cy="572" r="2.6" fill="#262826"/>
<circle cx="500.9" cy="572" r="2.6" fill="#262826"/>
<circle cx="477.9" cy="593.4" r="2.6" fill="#262826"/>
<circle cx="500.9" cy="593.4" r="2.6" fill="#262826"/>
<circle cx="489.4" cy="582.7" r="9.5" fill="#2a2c2a" stroke="#4b4e4b" stroke-width="1.2"/>
<text x="486.4" y="607.5" font-family="Liberation Sans" font-weight="bold" font-size="9" fill="#f4f6f4">2</text>
<rect x="473.9" y="600.5" width="5" height="7" fill="#e2dbd2"/>
<rect x="499.9" y="600.5" width="5" height="7" fill="#e2dbd2"/>
<rect x="514.8" y="557" width="3.2" height="10" fill="#d8cbb8"/>
<rect x="536.8" y="557" width="3.2" height="10" fill="#d8cbb8"/>
<rect x="510.8" y="567" width="32.99999999999994" height="31.399999999999977" rx="2" fill="#3c3f3c"/>
<rect x="512.3" y="568.5" width="29.999999999999943" height="28.399999999999977" rx="2" fill="none" stroke="#4b4e4b" stroke-width="1.2"/>
<circle cx="515.8" cy="572" r="2.6" fill="#262826"/>
<circle cx="538.8" cy="572" r="2.6" fill="#262826"/>
<circle cx="515.8" cy="593.4" r="2.6" fill="#262826"/>
<circle cx="538.8" cy="593.4" r="2.6" fill="#262826"/>
<circle cx="527.3" cy="582.7" r="9.5" fill="#2a2c2a" stroke="#4b4e4b" stroke-width="1.2"/>
<text x="524.3" y="607.5" font-family="Liberation Sans" font-weight="bold" font-size="9" fill="#f4f6f4">3</text>
<rect x="511.8" y="600.5" width="5" height="7" fill="#e2dbd2"/>
<rect x="537.8" y="600.5" width="5" height="7" fill="#e2dbd2"/>
<rect x="553.6" y="557" width="3.2" height="10" fill="#d8cbb8"/>
<rect x="574.5" y="557" width="3.2" height="10" fill="#d8cbb8"/>
<rect x="549.6" y="567" width="31.899999999999977" height="31.399999999999977" rx="2" fill="#3c3f3c"/>
<rect x="551.1" y="568.5" width="28.899999999999977" height="28.399999999999977" rx="2" fill="none" stroke="#4b4e4b" stroke-width="1.2"/>
<circle cx="554.6" cy="572" r="2.6" fill="#262826"/>
<circle cx="576.5" cy="572" r="2.6" fill="#262826"/>
<circle cx="554.6" cy="593.4" r="2.6" fill="#262826"/>
<circle cx="576.5" cy="593.4" r="2.6" fill="#262826"/>
<circle cx="565.55" cy="582.7" r="9.5" fill="#2a2c2a" stroke="#4b4e4b" stroke-width="1.2"/>
<text x="562.55" y="607.5" font-family="Liberation Sans" font-weight="bold" font-size="9" fill="#f4f6f4">4</text>
<rect x="550.6" y="600.5" width="5" height="7" fill="#e2dbd2"/>
<rect x="575.5" y="600.5" width="5" height="7" fill="#e2dbd2"/>
<rect x="456" y="486" width="6" height="8" rx="1" fill="#cbbfa8"/>
<rect x="456" y="528" width="6" height="8" rx="1" fill="#e6e2dc"/>
<rect x="478" y="486" width="6" height="8" rx="1" fill="#cbbfa8"/>
<rect x="478" y="528" width="6" height="8" rx="1" fill="#e6e2dc"/>
<rect x="454" y="495.5" width="30.5" height="32.0" rx="2" fill="#262a35"/>
<rect x="455.5" y="497.0" width="27.5" height="29.0" rx="2" fill="none" stroke="#3a3e4a" stroke-width="1.2"/>
<circle cx="459" cy="500.5" r="2.6" fill="#1a1d26"/>
<circle cx="479.5" cy="500.5" r="2.6" fill="#1a1d26"/>
<circle cx="459" cy="522.5" r="2.6" fill="#1a1d26"/>
<circle cx="479.5" cy="522.5" r="2.6" fill="#1a1d26"/>
<circle cx="469.25" cy="511.5" r="9.5" fill="#22252f" stroke="#3a3e4a" stroke-width="1.2"/>
<text x="464" y="489" font-family="Liberation Sans" font-weight="bold" font-size="11" fill="#f4f6f4">M</text>
<rect x="274" y="615" width="53" height="6" fill="#cdf2d1"/>
<rect x="266.8" y="583.6" width="63" height="33.2" fill="#a4e3ac"/>
<polygon points="323.2,583.6 330.4,560 333.2,560 333.2,614 329.6,616.8 323.2,616.8" fill="#bdeec4"/>
<polygon points="278.4,560 330.4,560 323.2,583.6 267.2,583.6" fill="#3a7a4b"/>
<polygon points="282,566 294,566 291,574.5 279,574.5" fill="#10241a"/>
<polygon points="309,566 321,566 318,574.5 306,574.5" fill="#10241a"/>
<rect x="267.2" y="583.6" width="56" height="2.2" fill="#8fd39a"/>
<circle cx="281.2" cy="600.8" r="11" fill="#bdeec3"/>
<circle cx="281.2" cy="600.8" r="9.6" fill="#1e2a22"/>
<circle cx="280.59999999999997" cy="600.2" r="8.4" fill="#5d6360"/>
<circle cx="309.2" cy="600.8" r="11" fill="#bdeec3"/>
<circle cx="309.2" cy="600.8" r="9.6" fill="#1e2a22"/>
<circle cx="308.59999999999997" cy="600.2" r="8.4" fill="#5d6360"/>
<line x1="275.5" y1="604.5" x2="286" y2="593.5" stroke="#f0f0f0" stroke-width="1.8"/>
<line x1="279" y1="606.5" x2="288.5" y2="596.5" stroke="#e0e0e0" stroke-width="1.4"/>
<text x="335.2" y="581.8" font-family="Liberation Mono" font-size="13" fill="#f4f6f4" stroke="#f4f6f4" stroke-width="0.3" textLength="40" lengthAdjust="spacingAndGlyphs">AC/DC</text>
<text x="335.2" y="598.5" font-family="Liberation Mono" font-size="13" fill="#f4f6f4" stroke="#f4f6f4" stroke-width="0.3" textLength="40" lengthAdjust="spacingAndGlyphs">7-32V</text>
<rect x="380.9" y="598.9" width="7" height="11.7" fill="#b3a6a2"/>
<rect x="427.5" y="598.9" width="5.5" height="11.7" fill="#b3a6a2"/>
<rect x="390" y="586.5" width="34.4" height="5.5" fill="#1e231f"/>
<rect x="387.4" y="591" width="40.6" height="30" rx="1" fill="#e6e6e4"/>
<rect x="391" y="593" width="33" height="16" fill="#eeeeec"/>
<rect x="393" y="606" width="3" height="7" fill="#8c8c88"/>
<rect x="419" y="606" width="3" height="7" fill="#8c8c88"/>
<rect x="391" y="619" width="34" height="2" fill="#8c7d6e"/>
<path d="M876.5,963.5 H106.5 A30,30 0 0 1 76.5,933.5 V707.5 A30,30 0 0 1 106.5,677.5 H878.5 A30,30 0 0 1 908.5,707.5 V933.5 A30,30 0 0 1 878.5,963.5 Z" fill="none" stroke="#14a0d8" stroke-width="3" stroke-dasharray="12 6"/>
</svg>
<div class="t spec" style="left:272.5px;top:699.6px;transform:scaleX(1.0058)">Input voltage: DC/AC 7V-32V</div>
<div class="t spec" style="left:255.68px;top:741.8px;transform:scaleX(1.0427)">Max.current: 2000W/10A/gang</div>
<div class="t spec" style="left:266.26px;top:783.5px;transform:scaleX(1.0187)">Max. load: 3500W/16A/4gang</div>
<div class="t spec" style="left:192.8px;top:825.5px;transform:scaleX(1.0328)">Wireless: WI-FI 2.4ghz b/g/n+blue-tooth</div>
<div class="t spec" style="left:241.6px;top:867.0px;transform:scaleX(1.0059)">Working temperature: -20°C-70°C</div>
<div class="t spec" style="left:288.66px;top:909.0px;transform:scaleX(0.9726)">Size: 75x73mm/2.95x2.87in</div>
</body></html>
